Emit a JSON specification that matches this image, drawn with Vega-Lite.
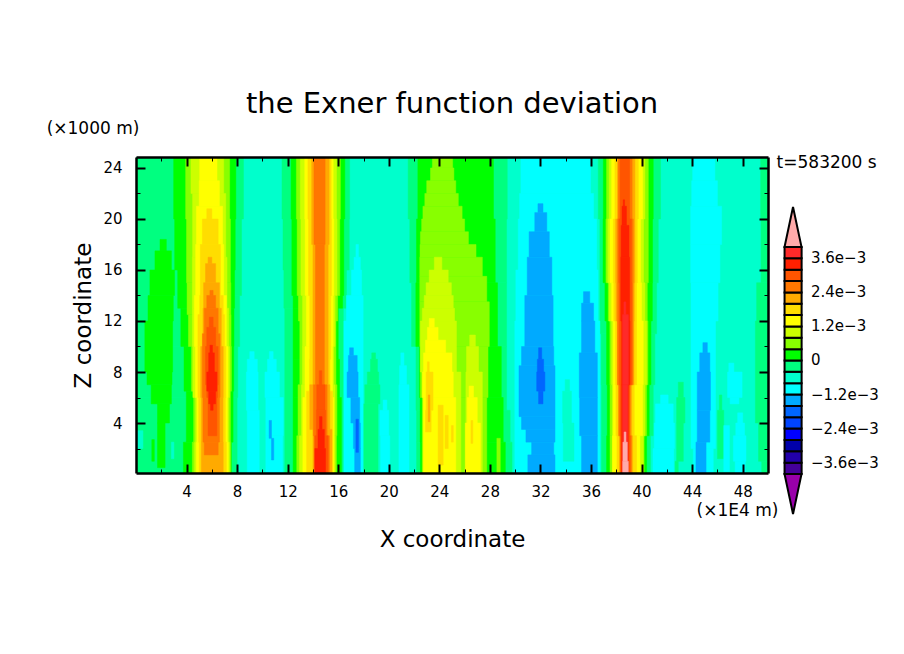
{
"$schema":"https://vega.github.io/schema/vega-lite/v6.json",
"description":"Contour-style map of the Exner function deviation over X and Z.",
"autosize":{"type":"none"},
"padding":{"left":136,"top":157,"right":136,"bottom":181},
"background":"white",
"width":632,
"height":316,
"title":{"text":"the Exner function deviation","font":"DejaVu Sans","fontSize":29,"fontWeight":"normal","anchor":"middle","offset":1,"color":"#000"},
"config":{"view":{"stroke":null},"axis":{"domainColor":"#000","tickColor":"#000","grid":false,"labelFont":"DejaVu Sans","labelFontSize":15,"labelColor":"#000","labelOverlap":false,"titleFont":"DejaVu Sans","titleFontSize":23,"titleColor":"#000","titleFontWeight":"normal"}},
"datasets":{
"field":[
{"x":0,"x2":50,"z":0,"z2":25,"v":-0.6},
{"x":0,"x2":8.5,"z":20,"z2":25,"v":-0.2},{"x":0,"x2":8.35,"z":14,"z2":20,"v":-0.2},{"x":0,"x2":8.2,"z":10,"z2":14,"v":-0.2},{"x":0,"x2":8.05,"z":6,"z2":10,"v":-0.2},{"x":0,"x2":8,"z":0,"z2":6,"v":-0.2},
{"x":11.55,"x2":16.9,"z":20,"z2":25,"v":-0.2},{"x":11.63,"x2":16.87,"z":16,"z2":20,"v":-0.2},{"x":11.7,"x2":16.65,"z":13,"z2":16,"v":-0.2},{"x":11.77,"x2":16.4,"z":0,"z2":13,"v":-0.2},
{"x":18.65,"x2":18.95,"z":9,"z2":9.5,"v":-0.2},{"x":18.55,"x2":19.1,"z":8,"z2":9,"v":-0.2},{"x":18.3,"x2":19.2,"z":7,"z2":8,"v":-0.2},{"x":18.1,"x2":19.3,"z":5.5,"z2":7,"v":-0.2},{"x":17.97,"x2":19.15,"z":0,"z2":5.5,"v":-0.2},
{"x":21.53,"x2":29.37,"z":20,"z2":25,"v":-0.2},{"x":21.66,"x2":29.32,"z":15,"z2":20,"v":-0.2},{"x":21.8,"x2":29.32,"z":10,"z2":15,"v":-0.2},{"x":22.15,"x2":29.32,"z":5,"z2":10,"v":-0.2},{"x":22.2,"x2":29.6,"z":2.5,"z2":5,"v":-0.2},{"x":22.2,"x2":29.75,"z":0,"z2":2.5,"v":-0.2},
{"x":36.57,"x2":41.5,"z":20,"z2":25,"v":-0.2},{"x":36.7,"x2":41.32,"z":15,"z2":20,"v":-0.2},{"x":36.7,"x2":41.19,"z":11,"z2":15,"v":-0.2},{"x":36.8,"x2":41.05,"z":7,"z2":11,"v":-0.2},{"x":36.83,"x2":40.92,"z":3,"z2":7,"v":-0.2},{"x":36.83,"x2":40.7,"z":0,"z2":3,"v":-0.2},
{"x":42.9,"x2":43.3,"z":6,"z2":7.2,"v":-0.2},{"x":42.77,"x2":43.43,"z":4,"z2":6,"v":-0.2},{"x":42.77,"x2":43.3,"z":1,"z2":4,"v":-0.2},{"x":42.65,"x2":42.9,"z":0,"z2":1,"v":-0.2},
{"x":46,"x2":46.5,"z":1.2,"z2":5,"v":-0.2},{"x":46.15,"x2":46.35,"z":5,"z2":6.2,"v":-0.2},
{"x":49.42,"x2":50,"z":20,"z2":25,"v":-0.2},{"x":49.45,"x2":50,"z":15,"z2":20,"v":-0.2},{"x":49.1,"x2":50,"z":12,"z2":15,"v":-0.2},{"x":49,"x2":50,"z":4,"z2":12,"v":-0.2},{"x":49.25,"x2":50,"z":1,"z2":4,"v":-0.2},{"x":49.5,"x2":50,"z":0,"z2":1,"v":-0.2},
{"x":0.05,"x2":0.55,"z":2,"z2":3.4,"v":-0.6},{"x":2.8,"x2":3,"z":1.2,"z2":2.5,"v":-0.6},
{"x":9,"x2":9.35,"z":9,"z2":9.6,"v":-1},{"x":8.8,"x2":9.6,"z":8,"z2":9,"v":-1},{"x":8.73,"x2":9.66,"z":5,"z2":8,"v":-1},{"x":8.8,"x2":9.75,"z":0,"z2":5,"v":-1},
{"x":10.55,"x2":10.85,"z":9,"z2":9.6,"v":-1},{"x":10.4,"x2":11.1,"z":8,"z2":9,"v":-1},{"x":10.2,"x2":11.35,"z":6,"z2":8,"v":-1},{"x":10.27,"x2":11.65,"z":3,"z2":6,"v":-1},{"x":10.27,"x2":11.6,"z":0,"z2":3,"v":-1},
{"x":10.53,"x2":10.72,"z":2.8,"z2":4.2,"v":-1.4},{"x":10.72,"x2":10.9,"z":1.1,"z2":2.8,"v":-1.4},
{"x":17.4,"x2":17.6,"z":17,"z2":18,"v":-1},{"x":17.25,"x2":17.75,"z":16,"z2":17,"v":-1},{"x":17.05,"x2":17.85,"z":14,"z2":16,"v":-1},{"x":16.65,"x2":17.97,"z":12,"z2":14,"v":-1},{"x":16.45,"x2":17.97,"z":0,"z2":12,"v":-1},
{"x":19.55,"x2":19.85,"z":5,"z2":5.8,"v":-1},{"x":19.3,"x2":20,"z":3,"z2":5,"v":-1},{"x":19.35,"x2":20.08,"z":0,"z2":3,"v":-1},
{"x":20.95,"x2":21.2,"z":8.5,"z2":9.5,"v":-1},{"x":20.85,"x2":21.4,"z":7,"z2":8.5,"v":-1},{"x":20.8,"x2":21.6,"z":0,"z2":7,"v":-1},
{"x":30.45,"x2":35.96,"z":22,"z2":25,"v":-1},{"x":30.35,"x2":36.2,"z":20,"z2":22,"v":-1},{"x":30.24,"x2":36.45,"z":16,"z2":20,"v":-1},{"x":30.05,"x2":36.55,"z":12,"z2":16,"v":-1},{"x":29.97,"x2":36.7,"z":0,"z2":12,"v":-1},
{"x":33.95,"x2":34.3,"z":6.5,"z2":7.4,"v":-0.6},{"x":33.75,"x2":34.45,"z":4,"z2":6.5,"v":-0.6},{"x":33.8,"x2":34.65,"z":1,"z2":4,"v":-0.6},
{"x":44.04,"x2":45.8,"z":23,"z2":25,"v":-1},{"x":43.96,"x2":46,"z":21,"z2":23,"v":-1},{"x":43.88,"x2":46.33,"z":18,"z2":21,"v":-1},{"x":43.88,"x2":46.2,"z":15,"z2":18,"v":-1},{"x":43.91,"x2":46.05,"z":12,"z2":15,"v":-1},{"x":43.91,"x2":45.85,"z":2,"z2":12,"v":-1},{"x":44.09,"x2":45.67,"z":0,"z2":2,"v":-1},
{"x":41.5,"x2":42.1,"z":5.5,"z2":6.2,"v":-1},{"x":41.1,"x2":42.5,"z":4,"z2":5.5,"v":-1},{"x":41,"x2":42.6,"z":2,"z2":4,"v":-1},{"x":40.9,"x2":42.55,"z":0,"z2":2,"v":-1},
{"x":46.9,"x2":47.3,"z":8,"z2":8.7,"v":-1},{"x":46.8,"x2":47.95,"z":6,"z2":8,"v":-1},{"x":47,"x2":47.7,"z":5.5,"z2":6,"v":-1},
{"x":47.6,"x2":48,"z":4,"z2":4.8,"v":-1},{"x":47.45,"x2":48.15,"z":3,"z2":4,"v":-1},{"x":47.26,"x2":48.26,"z":1,"z2":3,"v":-1},{"x":47.4,"x2":48.2,"z":0,"z2":1,"v":-1},{"x":46.5,"x2":46.95,"z":0.2,"z2":3.8,"v":-1},
{"x":16.9,"x2":17.2,"z":9.3,"z2":9.9,"v":-1.4},{"x":16.8,"x2":17.5,"z":8,"z2":9.3,"v":-1.4},{"x":16.7,"x2":17.57,"z":6,"z2":8,"v":-1.4},{"x":17,"x2":17.7,"z":4,"z2":6,"v":-1.4},{"x":17.2,"x2":17.75,"z":2,"z2":4,"v":-1.4},{"x":17.3,"x2":17.75,"z":0,"z2":2,"v":-1.4},
{"x":17.4,"x2":17.6,"z":1.7,"z2":4.3,"v":-1.8},
{"x":31.8,"x2":32.2,"z":20.5,"z2":21.2,"v":-1.4},{"x":31.55,"x2":32.5,"z":19,"z2":20.5,"v":-1.4},{"x":31.1,"x2":32.7,"z":17,"z2":19,"v":-1.4},{"x":30.95,"x2":32.9,"z":14,"z2":17,"v":-1.4},{"x":30.76,"x2":33,"z":10,"z2":14,"v":-1.4},{"x":30.5,"x2":33.05,"z":8.5,"z2":10,"v":-1.4},{"x":30.3,"x2":33.15,"z":4.5,"z2":8.5,"v":-1.4},{"x":30.5,"x2":33.15,"z":3.5,"z2":4.5,"v":-1.4},{"x":30.85,"x2":33.15,"z":2.5,"z2":3.5,"v":-1.4},{"x":31.3,"x2":33.05,"z":1.5,"z2":2.5,"v":-1.4},{"x":31,"x2":33.15,"z":0,"z2":1.5,"v":-1.4},
{"x":31.85,"x2":32.1,"z":9,"z2":9.9,"v":-1.8},{"x":31.75,"x2":32.25,"z":8,"z2":9,"v":-1.8},{"x":31.7,"x2":32.35,"z":6.5,"z2":8,"v":-1.8},{"x":31.85,"x2":32.2,"z":5.5,"z2":6.5,"v":-1.8},
{"x":35.4,"x2":35.9,"z":13.4,"z2":14.3,"v":-1.4},{"x":35.25,"x2":36.2,"z":12,"z2":13.4,"v":-1.4},{"x":35.25,"x2":36.3,"z":9.5,"z2":12,"v":-1.4},{"x":35.07,"x2":36.5,"z":6,"z2":9.5,"v":-1.4},{"x":35.1,"x2":36.5,"z":3,"z2":6,"v":-1.4},{"x":35.25,"x2":36.5,"z":0,"z2":3,"v":-1.4},
{"x":44.85,"x2":45.2,"z":9.5,"z2":10.3,"v":-1.4},{"x":44.6,"x2":45.4,"z":8,"z2":9.5,"v":-1.4},{"x":44.4,"x2":45.45,"z":5,"z2":8,"v":-1.4},{"x":44.4,"x2":45.4,"z":2.5,"z2":5,"v":-1.4},{"x":44.3,"x2":45.1,"z":0,"z2":2.5,"v":-1.4},
{"x":1.9,"x2":2.4,"z":17.5,"z2":18.4,"v":0.2},{"x":1.5,"x2":2.8,"z":16,"z2":17.5,"v":0.2},{"x":1.1,"x2":3.05,"z":14,"z2":16,"v":0.2},{"x":0.95,"x2":2.95,"z":12,"z2":14,"v":0.2},{"x":0.7,"x2":2.9,"z":8,"z2":12,"v":0.2},{"x":0.87,"x2":2.85,"z":7,"z2":8,"v":0.2},{"x":1.2,"x2":2.8,"z":5.5,"z2":7,"v":0.2},{"x":1.7,"x2":2.65,"z":4,"z2":5.5,"v":0.2},{"x":1.7,"x2":2.3,"z":0.5,"z2":4,"v":0.2},{"x":1.25,"x2":1.45,"z":1,"z2":2.7,"v":0.2},
{"x":2.98,"x2":7.9,"z":20,"z2":25,"v":0.2},{"x":3.06,"x2":7.85,"z":16,"z2":20,"v":0.2},{"x":3.3,"x2":7.8,"z":13,"z2":16,"v":0.2},{"x":3.55,"x2":7.75,"z":10,"z2":13,"v":0.2},{"x":3.8,"x2":7.73,"z":6.5,"z2":10,"v":0.2},{"x":3.98,"x2":7.68,"z":2.5,"z2":6.5,"v":0.2},{"x":3.75,"x2":7.55,"z":0,"z2":2.5,"v":0.2},
{"x":3.93,"x2":7.41,"z":20,"z2":25,"v":0.6},{"x":4,"x2":7.47,"z":15,"z2":20,"v":0.6},{"x":4.04,"x2":7.5,"z":12.5,"z2":15,"v":0.6},{"x":4.15,"x2":7.52,"z":10,"z2":12.5,"v":0.6},{"x":4.38,"x2":7.55,"z":6.5,"z2":10,"v":0.6},{"x":4.56,"x2":7.47,"z":2.5,"z2":6.5,"v":0.6},{"x":4.46,"x2":7.5,"z":0,"z2":2.5,"v":0.6},
{"x":4.35,"x2":6.94,"z":22,"z2":25,"v":1},{"x":4.48,"x2":7.1,"z":17,"z2":22,"v":1},{"x":4.46,"x2":7.2,"z":13,"z2":17,"v":1},{"x":4.46,"x2":7.33,"z":10,"z2":13,"v":1},{"x":4.5,"x2":7.4,"z":6,"z2":10,"v":1},{"x":4.72,"x2":7.33,"z":2.5,"z2":6,"v":1},{"x":4.64,"x2":7.4,"z":0,"z2":2.5,"v":1},
{"x":5.04,"x2":6.41,"z":23,"z2":25,"v":1.4},{"x":5,"x2":6.6,"z":21,"z2":23,"v":1.4},{"x":4.78,"x2":6.85,"z":18,"z2":21,"v":1.4},{"x":4.72,"x2":6.94,"z":14,"z2":18,"v":1.4},{"x":4.62,"x2":7.15,"z":10,"z2":14,"v":1.4},{"x":4.7,"x2":7.28,"z":6,"z2":10,"v":1.4},{"x":4.83,"x2":7.23,"z":2.5,"z2":6,"v":1.4},{"x":4.78,"x2":7.3,"z":0,"z2":2.5,"v":1.4},
{"x":5.6,"x2":6,"z":20,"z2":20.8,"v":1.8},{"x":5.25,"x2":6.5,"z":18,"z2":20,"v":1.8},{"x":5.09,"x2":6.68,"z":14,"z2":18,"v":1.8},{"x":5.04,"x2":6.9,"z":12.5,"z2":14,"v":1.8},{"x":4.9,"x2":7,"z":10,"z2":12.5,"v":1.8},{"x":4.9,"x2":7.1,"z":6,"z2":10,"v":1.8},{"x":4.96,"x2":7.07,"z":2.5,"z2":6,"v":1.8},{"x":5,"x2":7.15,"z":0,"z2":2.5,"v":1.8},
{"x":5.7,"x2":6,"z":16.5,"z2":17,"v":2.2},{"x":5.5,"x2":6.3,"z":15,"z2":16.5,"v":2.2},{"x":5.35,"x2":6.6,"z":13,"z2":15,"v":2.2},{"x":5.3,"x2":6.75,"z":10,"z2":13,"v":2.2},{"x":5.12,"x2":6.9,"z":6,"z2":10,"v":2.2},{"x":5.17,"x2":6.88,"z":2.5,"z2":6,"v":2.2},{"x":5.17,"x2":6.9,"z":0,"z2":2.5,"v":2.2},
{"x":5.85,"x2":6.1,"z":14,"z2":14.4,"v":2.6},{"x":5.6,"x2":6.3,"z":13,"z2":14,"v":2.6},{"x":5.4,"x2":6.5,"z":11,"z2":13,"v":2.6},{"x":5.25,"x2":6.65,"z":6,"z2":11,"v":2.6},{"x":5.3,"x2":6.6,"z":2.5,"z2":6,"v":2.6},{"x":5.4,"x2":6.5,"z":1.5,"z2":2.5,"v":2.6},
{"x":5.8,"x2":6.1,"z":11.5,"z2":12.3,"v":3},{"x":5.6,"x2":6.3,"z":10,"z2":11.5,"v":3},{"x":5.5,"x2":6.5,"z":7,"z2":10,"v":3},{"x":5.6,"x2":6.45,"z":6,"z2":7,"v":3},{"x":5.7,"x2":6.4,"z":3,"z2":6,"v":3},
{"x":5.85,"x2":6.05,"z":9.5,"z2":10.1,"v":3.4},{"x":5.75,"x2":6.2,"z":8,"z2":9.5,"v":3.4},{"x":5.6,"x2":6.4,"z":6.5,"z2":8,"v":3.4},{"x":5.75,"x2":6.3,"z":5.5,"z2":6.5,"v":3.4},{"x":5.9,"x2":6.1,"z":5,"z2":5.5,"v":3.4},
{"x":12.27,"x2":16.52,"z":20,"z2":25,"v":0.2},{"x":12.33,"x2":16.44,"z":14,"z2":20,"v":0.2},{"x":12.43,"x2":16.35,"z":13,"z2":14,"v":0.2},{"x":12.43,"x2":16,"z":9,"z2":13,"v":0.2},{"x":12.43,"x2":16.1,"z":6,"z2":9,"v":0.2},{"x":12.43,"x2":16.25,"z":0,"z2":6,"v":0.2},
{"x":12.69,"x2":16.17,"z":20,"z2":25,"v":0.6},{"x":12.75,"x2":16.12,"z":14,"z2":20,"v":0.6},{"x":12.85,"x2":15.95,"z":12,"z2":14,"v":0.6},{"x":12.96,"x2":15.82,"z":7,"z2":12,"v":0.6},{"x":12.82,"x2":15.9,"z":3,"z2":7,"v":0.6},{"x":12.72,"x2":15.86,"z":0,"z2":3,"v":0.6},
{"x":13,"x2":15.86,"z":20,"z2":25,"v":1},{"x":13.05,"x2":15.9,"z":14,"z2":20,"v":1},{"x":13.18,"x2":15.75,"z":10,"z2":14,"v":1},{"x":13.17,"x2":15.65,"z":7,"z2":10,"v":1},{"x":13.09,"x2":15.75,"z":3,"z2":7,"v":1},{"x":12.93,"x2":15.75,"z":0,"z2":3,"v":1},
{"x":13.35,"x2":15.6,"z":20,"z2":25,"v":1.4},{"x":13.38,"x2":15.65,"z":14,"z2":20,"v":1.4},{"x":13.48,"x2":15.6,"z":10,"z2":14,"v":1.4},{"x":13.37,"x2":15.55,"z":6,"z2":10,"v":1.4},{"x":13.2,"x2":15.65,"z":0,"z2":6,"v":1.4},
{"x":13.6,"x2":15.44,"z":20,"z2":25,"v":1.8},{"x":13.65,"x2":15.46,"z":14,"z2":20,"v":1.8},{"x":13.75,"x2":15.4,"z":9,"z2":14,"v":1.8},{"x":13.72,"x2":15.35,"z":6.5,"z2":9,"v":1.8},{"x":13.5,"x2":15.55,"z":0,"z2":6.5,"v":1.8},
{"x":13.9,"x2":15.28,"z":18,"z2":25,"v":2.2},{"x":14,"x2":15.2,"z":7,"z2":18,"v":2.2},{"x":13.75,"x2":15.33,"z":3.5,"z2":7,"v":2.2},{"x":14,"x2":15.5,"z":0,"z2":3.5,"v":2.2},
{"x":14.08,"x2":14.96,"z":18,"z2":25,"v":2.6},{"x":14.2,"x2":14.9,"z":7,"z2":18,"v":2.6},{"x":14.03,"x2":15.12,"z":3,"z2":7,"v":2.6},{"x":14.1,"x2":15.3,"z":0,"z2":3,"v":2.6},
{"x":14.5,"x2":14.7,"z":7,"z2":8.1,"v":3},{"x":14.3,"x2":14.95,"z":5,"z2":7,"v":3},{"x":14.27,"x2":15,"z":3,"z2":5,"v":3},{"x":14.15,"x2":15.2,"z":0,"z2":3,"v":3},
{"x":14.52,"x2":14.72,"z":3.5,"z2":4.5,"v":3.4},{"x":14.4,"x2":14.9,"z":2,"z2":3.5,"v":3.4},{"x":14.15,"x2":15,"z":0,"z2":2,"v":3.4},
{"x":22.3,"x2":28.28,"z":20,"z2":25,"v":0.2},{"x":22.19,"x2":28.42,"z":15,"z2":20,"v":0.2},{"x":22.14,"x2":28.6,"z":10,"z2":15,"v":0.2},{"x":22.42,"x2":28.9,"z":6,"z2":10,"v":0.2},{"x":22.48,"x2":29.05,"z":2.5,"z2":6,"v":0.2},{"x":22.5,"x2":29.22,"z":0,"z2":2.5,"v":0.2},
{"x":23.45,"x2":25.05,"z":24,"z2":25,"v":0.6},{"x":23.3,"x2":25.15,"z":23,"z2":24,"v":0.6},{"x":23,"x2":25.3,"z":22,"z2":23,"v":0.6},{"x":22.85,"x2":25.5,"z":21,"z2":22,"v":0.6},{"x":22.7,"x2":25.8,"z":20,"z2":21,"v":0.6},{"x":22.6,"x2":26,"z":19,"z2":20,"v":0.6},{"x":22.5,"x2":26.3,"z":18,"z2":19,"v":0.6},{"x":22.47,"x2":26.9,"z":17,"z2":18,"v":0.6},{"x":22.45,"x2":27.4,"z":15.5,"z2":17,"v":0.6},{"x":22.45,"x2":27.75,"z":13.5,"z2":15.5,"v":0.6},{"x":22.45,"x2":27.95,"z":10,"z2":13.5,"v":0.6},{"x":22.5,"x2":27.85,"z":6,"z2":10,"v":0.6},{"x":22.65,"x2":27.75,"z":0,"z2":6,"v":0.6},{"x":28.55,"x2":28.82,"z":0,"z2":2.8,"v":0.6},
{"x":23.6,"x2":24.2,"z":16,"z2":17,"v":1},{"x":23.2,"x2":24.7,"z":15,"z2":16,"v":1},{"x":22.95,"x2":24.95,"z":14,"z2":15,"v":1},{"x":22.8,"x2":25.1,"z":13,"z2":14,"v":1},{"x":22.65,"x2":25.2,"z":12,"z2":13,"v":1},{"x":22.5,"x2":25.35,"z":8,"z2":12,"v":1},{"x":22.7,"x2":25.7,"z":0,"z2":8,"v":1},
{"x":26.4,"x2":26.85,"z":10,"z2":10.9,"v":1},{"x":26.15,"x2":27.1,"z":8,"z2":10,"v":1},{"x":26.1,"x2":27.4,"z":0,"z2":8,"v":1},
{"x":23.2,"x2":23.6,"z":11.5,"z2":12.2,"v":1.4},{"x":23.05,"x2":23.9,"z":10.5,"z2":11.5,"v":1.4},{"x":22.9,"x2":24.5,"z":9.5,"z2":10.5,"v":1.4},{"x":22.75,"x2":25,"z":8,"z2":9.5,"v":1.4},{"x":22.65,"x2":25.1,"z":6,"z2":8,"v":1.4},{"x":22.75,"x2":25.3,"z":0,"z2":6,"v":1.4},
{"x":26.35,"x2":26.7,"z":6,"z2":6.9,"v":1.4},{"x":26.2,"x2":27,"z":4,"z2":6,"v":1.4},{"x":26.05,"x2":27.25,"z":0,"z2":4,"v":1.4},
{"x":23.05,"x2":23.2,"z":8,"z2":8.8,"v":1.8},{"x":22.95,"x2":23.5,"z":5,"z2":8,"v":1.8},{"x":22.9,"x2":23.35,"z":3.3,"z2":5,"v":1.8},{"x":23.12,"x2":23.25,"z":4.1,"z2":6.2,"v":2.2},
{"x":23.9,"x2":24.3,"z":0.7,"z2":5.4,"v":1.8},{"x":24.45,"x2":24.7,"z":2,"z2":4.6,"v":1.8},{"x":24.95,"x2":25.1,"z":2.5,"z2":3.8,"v":1.8},{"x":26.5,"x2":26.65,"z":2.4,"z2":4.2,"v":1.8},
{"x":36.97,"x2":40.92,"z":20,"z2":25,"v":0.2},{"x":36.95,"x2":40.87,"z":15,"z2":20,"v":0.2},{"x":37.1,"x2":40.85,"z":12,"z2":15,"v":0.2},{"x":37.23,"x2":40.74,"z":7,"z2":12,"v":0.2},{"x":37.28,"x2":40.6,"z":3,"z2":7,"v":0.2},{"x":37.23,"x2":40.4,"z":0,"z2":3,"v":0.2},
{"x":37.23,"x2":40.53,"z":20,"z2":25,"v":0.6},{"x":37.18,"x2":40.53,"z":15,"z2":20,"v":0.6},{"x":37.36,"x2":40.45,"z":12,"z2":15,"v":0.6},{"x":37.49,"x2":40.5,"z":7,"z2":12,"v":0.6},{"x":37.5,"x2":40.4,"z":3,"z2":7,"v":0.6},{"x":37.5,"x2":40.2,"z":0,"z2":3,"v":0.6},
{"x":37.44,"x2":40.26,"z":20,"z2":25,"v":1},{"x":37.33,"x2":40.15,"z":15,"z2":20,"v":1},{"x":37.44,"x2":40.26,"z":12,"z2":15,"v":1},{"x":37.63,"x2":40.4,"z":7,"z2":12,"v":1},{"x":37.68,"x2":40.26,"z":3,"z2":7,"v":1},{"x":37.68,"x2":40.13,"z":0,"z2":3,"v":1},
{"x":37.63,"x2":40.08,"z":20,"z2":25,"v":1.4},{"x":37.5,"x2":39.92,"z":15,"z2":20,"v":1.4},{"x":37.63,"x2":40,"z":12,"z2":15,"v":1.4},{"x":37.76,"x2":40.13,"z":7,"z2":12,"v":1.4},{"x":37.76,"x2":40.08,"z":3,"z2":7,"v":1.4},{"x":37.7,"x2":39.87,"z":0,"z2":3,"v":1.4},
{"x":37.89,"x2":39.74,"z":20,"z2":25,"v":1.8},{"x":37.76,"x2":39.66,"z":15,"z2":20,"v":1.8},{"x":37.8,"x2":39.6,"z":12,"z2":15,"v":1.8},{"x":37.92,"x2":39.6,"z":7,"z2":12,"v":1.8},{"x":37.97,"x2":39.42,"z":3,"z2":7,"v":1.8},{"x":38.05,"x2":39.6,"z":0,"z2":3,"v":1.8},
{"x":38.1,"x2":39.47,"z":20,"z2":25,"v":2.2},{"x":37.95,"x2":39.47,"z":15,"z2":20,"v":2.2},{"x":37.97,"x2":39.42,"z":12,"z2":15,"v":2.2},{"x":38.08,"x2":39.4,"z":7,"z2":12,"v":2.2},{"x":38.15,"x2":39.22,"z":3,"z2":7,"v":2.2},{"x":38.24,"x2":39.29,"z":0,"z2":3,"v":2.2},
{"x":38.15,"x2":39.25,"z":20,"z2":25,"v":2.6},{"x":38.1,"x2":39.34,"z":15,"z2":20,"v":2.6},{"x":38.1,"x2":39.32,"z":7,"z2":15,"v":2.6},{"x":38.2,"x2":39.1,"z":3,"z2":7,"v":2.6},{"x":38.3,"x2":39.2,"z":0,"z2":3,"v":2.6},
{"x":38.3,"x2":39.05,"z":20,"z2":25,"v":3},{"x":38.2,"x2":39.2,"z":15,"z2":20,"v":3},{"x":38.25,"x2":39.22,"z":7,"z2":15,"v":3},{"x":38.3,"x2":39.05,"z":3,"z2":7,"v":3},{"x":38.35,"x2":39.1,"z":0,"z2":3,"v":3},
{"x":38.55,"x2":38.65,"z":21,"z2":21.5,"v":3.4},{"x":38.45,"x2":38.8,"z":19.5,"z2":21,"v":3.4},{"x":38.38,"x2":39,"z":17,"z2":19.5,"v":3.4},{"x":38.35,"x2":39.05,"z":12,"z2":17,"v":3.4},{"x":38.42,"x2":39.08,"z":7,"z2":12,"v":3.4},{"x":38.42,"x2":38.95,"z":0,"z2":7,"v":3.4},
{"x":38.6,"x2":38.75,"z":12.5,"z2":13.5,"v":3.8},{"x":38.5,"x2":38.95,"z":7,"z2":12.5,"v":3.8},{"x":38.5,"x2":38.9,"z":0,"z2":7,"v":3.8},
{"x":38.62,"x2":38.76,"z":2.5,"z2":3.3,"v":4.2},{"x":38.52,"x2":38.87,"z":1,"z2":2.5,"v":4.2},{"x":38.5,"x2":38.95,"z":0,"z2":1,"v":4.2}
],
"bar":[
{"lo":-4,"hi":-3.6,"v":-3.8},{"lo":-3.6,"hi":-3.2,"v":-3.4},{"lo":-3.2,"hi":-2.8,"v":-3},{"lo":-2.8,"hi":-2.4,"v":-2.6},{"lo":-2.4,"hi":-2,"v":-2.2},{"lo":-2,"hi":-1.6,"v":-1.8},{"lo":-1.6,"hi":-1.2,"v":-1.4},{"lo":-1.2,"hi":-0.8,"v":-1},{"lo":-0.8,"hi":-0.4,"v":-0.6},{"lo":-0.4,"hi":0,"v":-0.2},{"lo":0,"hi":0.4,"v":0.2},{"lo":0.4,"hi":0.8,"v":0.6},{"lo":0.8,"hi":1.2,"v":1},{"lo":1.2,"hi":1.6,"v":1.4},{"lo":1.6,"hi":2,"v":1.8},{"lo":2,"hi":2.4,"v":2.2},{"lo":2.4,"hi":2.8,"v":2.6},{"lo":2.8,"hi":3.2,"v":3},{"lo":3.2,"hi":3.6,"v":3.4},{"lo":3.6,"hi":4,"v":3.8}
],
"barlabels":[
{"v":3.6,"label":"3.6e−3"},{"v":2.4,"label":"2.4e−3"},{"v":1.2,"label":"1.2e−3"},{"v":0,"label":"0"},{"v":-1.2,"label":"−1.2e−3"},{"v":-2.4,"label":"−2.4e−3"},{"v":-3.6,"label":"−3.6e−3"}
],
"one":[{"n":1}]
},
"layer":[
{"data":{"name":"field"},
"mark":{"type":"rect","clip":true,"strokeWidth":0.5},
"encoding":{
"x":{"field":"x","type":"quantitative","scale":{"domain":[0,50],"nice":false,"zero":false},"axis":{"orient":"bottom","zindex":1,"values":[4,8,12,16,20,24,28,32,36,40,44,48],"tickSize":-9,"tickWidth":2,"domainWidth":2.5,"labelPadding":20,"title":"X coordinate","titlePadding":29}},
"x2":{"field":"x2"},
"y":{"field":"z","type":"quantitative","scale":{"domain":[0.08,24.86],"nice":false,"zero":false},"axis":{"orient":"left","zindex":1,"values":[4,8,12,16,20,24],"tickSize":-9,"tickWidth":2,"domainWidth":2.5,"labelPadding":23,"title":"Z coordinate","titlePadding":7}},
"y2":{"field":"z2"},
"fill":{"field":"v","type":"quantitative","legend":null,"scale":{"type":"threshold","domain":[-4,-3.6,-3.2,-2.8,-2.4,-2,-1.6,-1.2,-0.8,-0.4,0,0.4,0.8,1.2,1.6,2,2.4,2.8,3.2,3.6,4],"range":["#9900AA","#440099","#2200AA","#0000AA","#0000FF","#0044FF","#0066FF","#00AAFF","#00FFFF","#00FFCC","#00FF80","#00FF00","#88FF00","#CCFF00","#FFFF00","#FFDD00","#FFAA00","#FF7700","#FF5500","#FF2000","#FF2A2A","#FFAAAA"]}},
"stroke":{"field":"v","type":"quantitative","legend":null,"scale":{"type":"threshold","domain":[-4,-3.6,-3.2,-2.8,-2.4,-2,-1.6,-1.2,-0.8,-0.4,0,0.4,0.8,1.2,1.6,2,2.4,2.8,3.2,3.6,4],"range":["#9900AA","#440099","#2200AA","#0000AA","#0000FF","#0044FF","#0066FF","#00AAFF","#00FFFF","#00FFCC","#00FF80","#00FF00","#88FF00","#CCFF00","#FFFF00","#FFDD00","#FFAA00","#FF7700","#FF5500","#FF2000","#FF2A2A","#FFAAAA"]}}
}},
{"data":{"name":"one"},"mark":{"type":"point","opacity":0},
"encoding":{
"x":{"datum":25,"type":"quantitative","scale":{"domain":[0,50],"nice":false,"zero":false},"axis":{"orient":"bottom","zindex":1,"values":[2,6,10,14,18,22,26,30,34,38,42,46],"tickSize":-4,"tickWidth":1,"labels":false,"domain":false,"title":null}},
"y":{"datum":12,"type":"quantitative","scale":{"domain":[0.08,24.86],"nice":false,"zero":false},"axis":{"orient":"left","zindex":1,"values":[2,6,10,14,18,22],"tickSize":-4,"tickWidth":1,"labels":false,"domain":false,"title":null}}
}},
{"data":{"name":"one"},"mark":{"type":"point","opacity":0},
"encoding":{
"x":{"datum":25,"type":"quantitative","scale":{"domain":[0,50],"nice":false,"zero":false},"axis":{"orient":"top","zindex":1,"values":[4,8,12,16,20,24,28,32,36,40,44,48],"tickSize":-9,"tickWidth":2,"domainWidth":2.5,"labels":false,"title":null}},
"y":{"datum":12,"type":"quantitative","scale":{"domain":[0.08,24.86],"nice":false,"zero":false},"axis":{"orient":"right","zindex":1,"values":[4,8,12,16,20,24],"tickSize":-9,"tickWidth":2,"domainWidth":2.5,"labels":false,"title":null}}
}},
{"data":{"name":"one"},"mark":{"type":"point","opacity":0},
"encoding":{
"x":{"datum":25,"type":"quantitative","scale":{"domain":[0,50],"nice":false,"zero":false},"axis":{"orient":"top","zindex":1,"values":[2,6,10,14,18,22,26,30,34,38,42,46],"tickSize":-4,"tickWidth":1,"labels":false,"domain":false,"title":null}},
"y":{"datum":12,"type":"quantitative","scale":{"domain":[0.08,24.86],"nice":false,"zero":false},"axis":{"orient":"right","zindex":1,"values":[2,6,10,14,18,22],"tickSize":-4,"tickWidth":1,"labels":false,"domain":false,"title":null}}
}},
{"data":{"name":"bar"},
"mark":{"type":"rect","stroke":"#000","strokeWidth":2},
"encoding":{
"x":{"datum":51.31,"type":"quantitative","scale":{"domain":[0,50],"nice":false,"zero":false},"axis":null},
"x2":{"datum":52.66},
"y":{"field":"lo","type":"quantitative","scale":{"domain":[-3.965,7.172],"nice":false,"zero":false},"axis":null},
"y2":{"field":"hi"},
"fill":{"field":"v","type":"quantitative","legend":null,"scale":{"type":"threshold","domain":[-4,-3.6,-3.2,-2.8,-2.4,-2,-1.6,-1.2,-0.8,-0.4,0,0.4,0.8,1.2,1.6,2,2.4,2.8,3.2,3.6,4],"range":["#9900AA","#440099","#2200AA","#0000AA","#0000FF","#0044FF","#0066FF","#00AAFF","#00FFFF","#00FFCC","#00FF80","#00FF00","#88FF00","#CCFF00","#FFFF00","#FFDD00","#FFAA00","#FF7700","#FF5500","#FF2000","#FF2A2A","#FFAAAA"]}}
}},
{"data":{"values":[{"edge":4,"v":4.2}]},
"mark":{"type":"point","shape":"M-0.2125,0L0,-1L0.2125,0Z","size":6400,"filled":true,"opacity":1,"stroke":"#000","strokeWidth":2,"fill":"#FFAAAA"},
"encoding":{
"x":{"datum":51.98,"type":"quantitative","scale":{"domain":[0,50],"nice":false,"zero":false},"axis":null},
"y":{"field":"edge","type":"quantitative","scale":{"domain":[-3.965,7.172],"nice":false,"zero":false},"axis":null}
}},
{"data":{"values":[{"edge":-4,"v":-4.2}]},
"mark":{"type":"point","shape":"M-0.2125,0L0,1L0.2125,0Z","size":6400,"filled":true,"opacity":1,"stroke":"#000","strokeWidth":2,"fill":"#9900AA"},
"encoding":{
"x":{"datum":51.98,"type":"quantitative","scale":{"domain":[0,50],"nice":false,"zero":false},"axis":null},
"y":{"field":"edge","type":"quantitative","scale":{"domain":[-3.965,7.172],"nice":false,"zero":false},"axis":null}
}},
{"data":{"name":"barlabels"},
"mark":{"type":"text","align":"left","baseline":"middle","font":"DejaVu Sans","fontSize":15,"color":"#000"},
"encoding":{
"x":{"datum":53.4,"type":"quantitative","scale":{"domain":[0,50],"nice":false,"zero":false},"axis":null},
"y":{"field":"v","type":"quantitative","scale":{"domain":[-3.965,7.172],"nice":false,"zero":false},"axis":null},
"text":{"field":"label"}
}},
{"data":{"name":"one"},"mark":{"type":"text","align":"left","baseline":"middle","font":"DejaVu Sans","fontSize":17,"color":"#000","text":"(×1000 m)"},
"encoding":{
"x":{"datum":-7.07,"type":"quantitative","scale":{"domain":[0,50],"nice":false,"zero":false},"axis":null},
"y":{"datum":27.06,"type":"quantitative","scale":{"domain":[0.08,24.86],"nice":false,"zero":false},"axis":null}
}},
{"data":{"name":"one"},"mark":{"type":"text","align":"left","baseline":"middle","font":"DejaVu Sans","fontSize":17,"color":"#000","text":"t=583200 s"},
"encoding":{
"x":{"datum":50.68,"type":"quantitative","scale":{"domain":[0,50],"nice":false,"zero":false},"axis":null},
"y":{"datum":24.39,"type":"quantitative","scale":{"domain":[0.08,24.86],"nice":false,"zero":false},"axis":null}
}},
{"data":{"name":"one"},"mark":{"type":"text","align":"left","baseline":"middle","font":"DejaVu Sans","fontSize":17,"color":"#000","text":"(×1E4 m)"},
"encoding":{
"x":{"datum":44.35,"type":"quantitative","scale":{"domain":[0,50],"nice":false,"zero":false},"axis":null},
"y":{"datum":-2.9,"type":"quantitative","scale":{"domain":[0.08,24.86],"nice":false,"zero":false},"axis":null}
}}
],
"resolve":{"scale":{"y":"independent"},"axis":{"x":"independent","y":"independent"}}
}
